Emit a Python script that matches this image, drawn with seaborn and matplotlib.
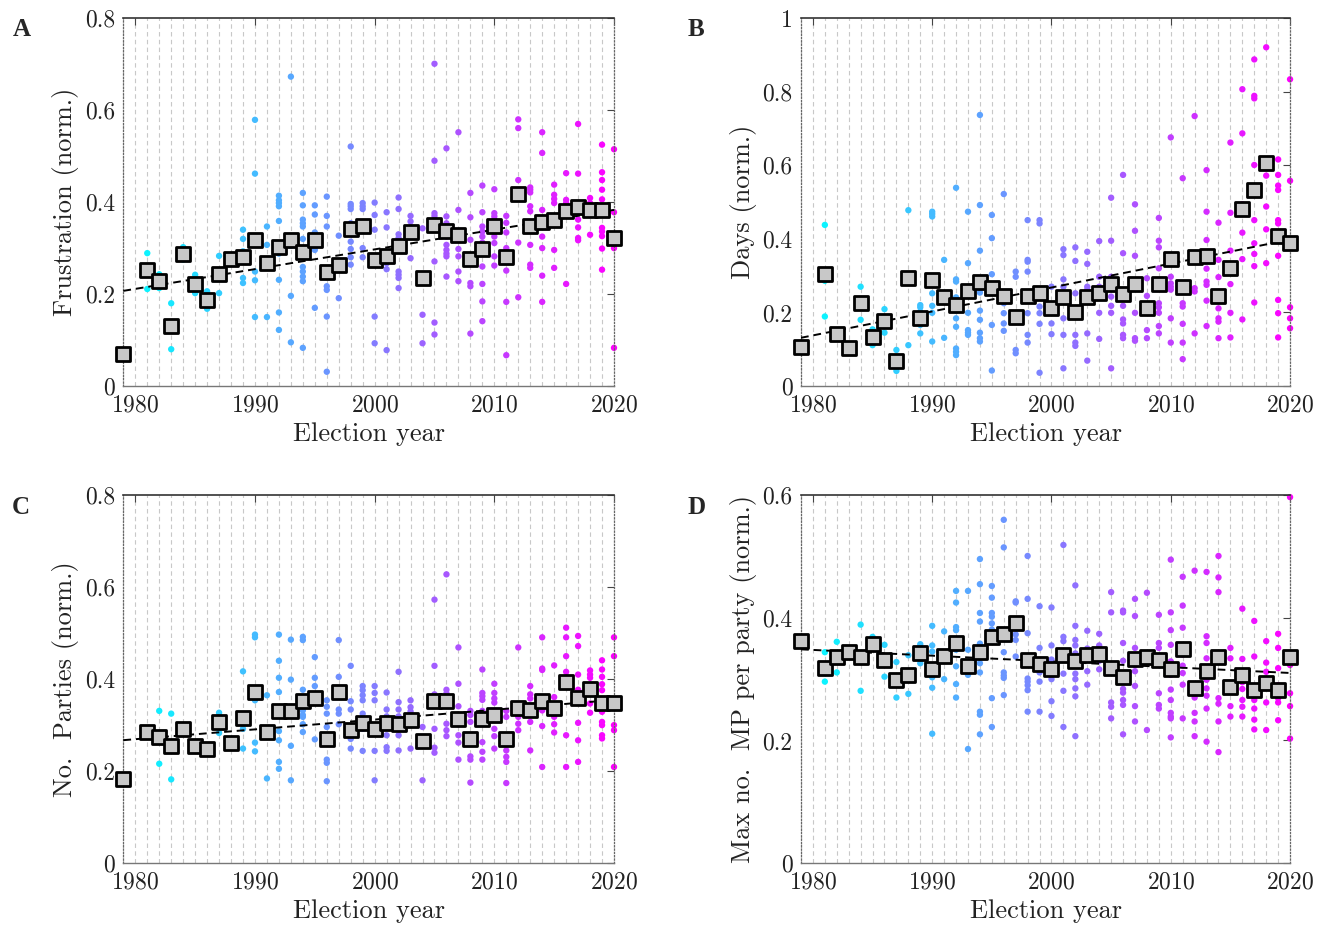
import numpy as np
import pandas as pd
import matplotlib
matplotlib.use("Agg")
import matplotlib.pyplot as plt
from matplotlib.ticker import FuncFormatter
import seaborn as sns

# election years (no election in 1980)
all_years = list(range(1979, 2021))
mean_years = [y for y in all_years if y != 1980]

# yearly means (grey squares), one value per entry of mean_years
frust_mean = [0.069, 0.252, 0.229, 0.130, 0.287, 0.222, 0.188, 0.243, 0.276, 0.280,
              0.318, 0.268, 0.302, 0.318, 0.292, 0.317, 0.247, 0.264, 0.341, 0.349,
              0.273, 0.282, 0.304, 0.335, 0.235, 0.351, 0.338, 0.329, 0.276, 0.298,
              0.347, 0.280, 0.418, 0.347, 0.357, 0.362, 0.381, 0.389, 0.382, 0.382,
              0.322]
days_mean = [0.105, 0.304, 0.141, 0.102, 0.225, 0.132, 0.178, 0.069, 0.295, 0.184,
             0.288, 0.241, 0.220, 0.258, 0.284, 0.266, 0.246, 0.187, 0.245, 0.254,
             0.211, 0.243, 0.202, 0.243, 0.254, 0.277, 0.249, 0.277, 0.213, 0.277,
             0.345, 0.268, 0.352, 0.354, 0.245, 0.320, 0.481, 0.533, 0.606, 0.409,
             0.390]
parties_mean = [0.182, 0.284, 0.274, 0.255, 0.292, 0.255, 0.247, 0.306, 0.261, 0.316,
                0.372, 0.284, 0.331, 0.331, 0.352, 0.360, 0.270, 0.371, 0.290, 0.305,
                0.291, 0.305, 0.302, 0.312, 0.266, 0.353, 0.353, 0.313, 0.269, 0.314,
                0.321, 0.270, 0.338, 0.334, 0.353, 0.337, 0.393, 0.358, 0.378, 0.348,
                0.348]
maxmp_mean = [0.363, 0.318, 0.336, 0.344, 0.336, 0.358, 0.332, 0.299, 0.307, 0.343,
              0.316, 0.338, 0.359, 0.322, 0.345, 0.368, 0.374, 0.392, 0.331, 0.325,
              0.316, 0.340, 0.330, 0.339, 0.341, 0.318, 0.304, 0.333, 0.336, 0.331,
              0.317, 0.350, 0.286, 0.314, 0.336, 0.288, 0.306, 0.283, 0.293, 0.283,
              0.336]

# individual election values (coloured dots), year -> values
frust_dots = {
    1981: [.289, .211], 1982: [.243, .213], 1983: [.180, .080], 1984: [.302, .275],
    1985: [.242, .202], 1986: [.206, .168], 1987: [.283, .202], 1988: [.280, .272],
    1989: [.340, .320, .293, .235, .224], 1990: [.579, .462, .249, .230, .150],
    1991: [.347, .307, .150],
    1992: [.414, .404, .398, .391, .359, .288, .231, .160, .122],
    1993: [.673, .305, .196, .095],
    1994: [.420, .393, .362, .354, .347, .320, .259, .249, .238, .228, .083],
    1995: [.393, .373, .334, .311, .296, .170],
    1996: [.412, .370, .347, .217, .209, .151, .031], 1997: [.327, .191],
    1998: [.521, .396, .391, .385, .354, .334, .314, .298, .280, .264],
    1999: [.398, .391, .385, .300, .280], 2000: [.399, .372, .340, .151, .093],
    2001: [.378, .345, .282, .267, .254, .078],
    2002: [.410, .385, .330, .322, .315, .249, .242, .235, .213],
    2003: [.370, .358, .345, .278], 2004: [.343, .155, .093],
    2005: [.701, .490, .376, .370, .271, .138, .112],
    2006: [.517, .369, .354, .325, .307, .296, .288, .282, .238],
    2007: [.552, .383, .298, .282, .249, .228],
    2008: [.420, .367, .318, .224, .217, .114],
    2009: [.436, .378, .347, .336, .325, .312, .260, .222, .184, .141],
    2010: [.428, .376, .369, .362, .355, .325, .311, .282, .262],
    2011: [.370, .355, .334, .300, .251, .183, .067],
    2012: [.580, .561, .448, .312, .193],
    2013: [.432, .427, .421, .391, .380, .307, .264, .257],
    2014: [.552, .507, .383, .325, .300, .240, .183],
    2015: [.438, .416, .407, .398, .296, .257], 2016: [.463, .405, .398, .222],
    2017: [.570, .462, .376, .362, .345, .322, .317], 2018: [.409, .398, .387, .329],
    2019: [.525, .465, .448, .427, .406, .344, .336, .326, .299, .253],
    2020: [.515, .378, .300, .083],
}
days_dots = {
    1981: [.438, .286, .189], 1984: [.270, .180], 1985: [.154, .111], 1986: [.209, .145],
    1987: [.098, .041], 1988: [.478, .111], 1989: [.220, .214, .202, .166, .143],
    1990: [.474, .468, .461, .252, .218, .199, .121], 1991: [.343, .131],
    1992: [.539, .290, .284, .241, .205, .184, .161, .102, .093, .084],
    1993: [.474, .334, .199, .152, .145, .139],
    1994: [.737, .492, .368, .254, .205, .180, .145, .130, .121],
    1995: [.465, .402, .304, .166, .042], 1996: [.522, .250, .225, .198, .170, .150],
    1997: [.311, .297, .098, .089], 1998: [.451, .343, .338, .311, .198, .139, .118],
    1999: [.451, .442, .216, .198, .169, .036], 2000: [.270, .170, .141],
    2001: [.372, .356, .290, .270, .184, .139, .048],
    2002: [.377, .340, .252, .211, .139, .118, .109],
    2003: [.365, .332, .270, .262, .143, .069], 2004: [.394, .297, .270, .199, .128],
    2005: [.512, .395, .297, .243, .218, .199, .048],
    2006: [.574, .361, .218, .181, .170, .139, .130],
    2007: [.494, .422, .354, .270, .199, .130, .123], 2008: [.293, .245, .152, .130],
    2009: [.457, .395, .377, .320, .225, .214, .199, .163, .143],
    2010: [.676, .297, .279, .270, .262, .184, .118],
    2011: [.565, .270, .225, .216, .169, .118, .073], 2012: [.734, .266, .257, .143],
    2013: [.587, .474, .397, .319, .284, .275, .232, .163],
    2014: [.444, .343, .296, .211, .184, .175, .130],
    2015: [.662, .471, .368, .277, .199, .132], 2016: [.807, .687, .494, .417, .345, .181],
    2017: [.888, .789, .782, .601, .451, .388, .359, .326, .227],
    2018: [.921, .616, .572, .488, .426, .334],
    2019: [.616, .574, .545, .533, .451, .442, .406, .354, .234, .198, .132],
    2020: [.834, .558, .214, .184, .157],
}
parties_dots = {
    1982: [.331, .216], 1983: [.325, .182], 1987: [.327, .283], 1989: [.417, .292, .249],
    1990: [.497, .491, .354, .262, .243], 1991: [.365, .184],
    1992: [.497, .440, .403, .372, .287, .267, .220, .205],
    1993: [.486, .399, .255, .180],
    1994: [.492, .485, .377, .332, .322, .318, .302, .285],
    1995: [.448, .403, .385, .269], 1996: [.354, .340, .325, .296, .225, .218, .178],
    1997: [.485, .405, .334, .325, .302], 1998: [.429, .352, .334, .283, .270, .249],
    1999: [.385, .376, .365, .354, .325, .292, .244], 2000: [.385, .370, .354, .244, .180],
    2001: [.371, .334, .319, .310, .296, .278, .252, .244],
    2002: [.416, .350, .334, .319, .311, .278, .245],
    2003: [.354, .339, .330, .318, .249], 2004: [.296, .180],
    2005: [.573, .429, .367, .292, .251, .240], 2006: [.628, .377, .369, .303, .289, .276],
    2007: [.469, .390, .341, .302, .278, .262, .225],
    2008: [.331, .322, .307, .267, .232, .225, .175],
    2009: [.421, .370, .363, .355, .331, .311, .263, .242, .225],
    2010: [.390, .370, .358, .349, .292, .276, .249],
    2011: [.331, .318, .245, .231, .220, .174], 2012: [.469, .340, .318, .303, .289],
    2013: [.385, .367, .358, .340, .307, .245], 2014: [.491, .423, .420, .332, .298, .209],
    2015: [.430, .361, .318, .302, .284],
    2016: [.512, .491, .450, .416, .398, .278, .209],
    2017: [.494, .472, .410, .377, .305, .267, .220],
    2018: [.419, .410, .403, .369, .347, .327],
    2019: [.441, .421, .405, .389, .376, .329, .307, .300, .278, .271],
    2020: [.491, .450, .300, .289, .209],
}
maxmp_dots = {
    1981: [.344, .296], 1982: [.361, .311], 1984: [.389, .281], 1985: [.369, .350],
    1986: [.356, .304], 1987: [.328, .270], 1988: [.339, .276], 1989: [.357, .326],
    1990: [.387, .355, .345, .303, .286, .211], 1991: [.378, .300],
    1992: [.444, .425, .385, .380, .348, .321, .292, .270],
    1993: [.444, .348, .307, .186],
    1994: [.496, .455, .408, .394, .358, .326, .311, .247, .242, .210],
    1995: [.452, .433, .408, .402, .391, .381, .269, .222],
    1996: [.560, .515, .344, .311, .306, .302, .274],
    1997: [.427, .425, .373, .364, .337],
    1998: [.501, .431, .375, .301, .296, .290, .282, .247],
    1999: [.419, .351, .311, .296, .247], 2000: [.417, .355, .332, .300, .264, .240],
    2001: [.519, .369, .362, .345, .309, .281, .222],
    2002: [.453, .387, .364, .355, .342, .309, .300, .285, .272, .207],
    2003: [.379, .350, .313, .291], 2004: [.374, .355, .330, .316],
    2005: [.442, .409, .262, .255, .236],
    2006: [.412, .409, .359, .330, .284, .278, .266, .258, .210],
    2007: [.431, .403, .351, .323, .313, .289, .256, .231],
    2008: [.441, .342, .336, .330, .217],
    2009: [.405, .359, .351, .323, .277, .258, .252],
    2010: [.495, .409, .380, .356, .329, .307, .283, .266, .245, .239, .236, .205],
    2011: [.467, .420, .384, .340, .322, .310, .291, .236],
    2012: [.477, .270, .245, .231, .207],
    2013: [.475, .370, .359, .334, .299, .285, .273, .252, .198],
    2014: [.501, .466, .442, .329, .269, .260, .231, .181],
    2015: [.351, .334, .280, .256, .239],
    2016: [.415, .333, .306, .295, .284, .266, .255, .239],
    2017: [.395, .337, .289, .283, .266, .252, .234, .218],
    2018: [.362, .327, .312, .262, .217],
    2019: [.374, .351, .318, .290, .276, .269, .262, .233],
    2020: [.597, .323, .277, .256, .203],
}

sns.set_theme(style="white")
plt.rcParams["font.family"] = ["cmr10", "DejaVu Serif"]
plt.rcParams["axes.formatter.use_mathtext"] = True
plt.rcParams["mathtext.fontset"] = "cm"


def draw_panel(ax, dots, means, ylabel, ymax):
    dot_df = pd.DataFrame([(yr, v) for yr, vals in dots.items() for v in vals],
                          columns=["year", "value"])
    mean_df = pd.DataFrame({"year": mean_years, "value": means})

    sns.scatterplot(data=dot_df, x="year", y="value", hue="year", palette="cool",
                    hue_norm=(1979, 2020), s=21, linewidth=0, legend=False,
                    ax=ax, zorder=2, clip_on=False)
    sns.regplot(data=mean_df, x="year", y="value", scatter=False, ci=None,
                color="black", line_kws=dict(dashes=(4, 2.5), lw=1.4, zorder=3), ax=ax)
    sns.scatterplot(data=mean_df, x="year", y="value", marker="s", s=115,
                    color="#c8c8c8", edgecolor="black", linewidth=2.0,
                    ax=ax, zorder=4, clip_on=False)

    ax.set_xlim(1979, 2020)
    ax.set_ylim(0, ymax)
    ax.set_xticks([1980, 1990, 2000, 2010, 2020])
    ax.set_xticks(all_years, minor=True)
    ax.set_yticks(np.round(np.arange(0, ymax + 0.01, 0.2), 1))
    ax.yaxis.set_major_formatter(FuncFormatter(lambda v, p: f"{v:g}"))
    ax.grid(True, which="both", axis="x", color="#c8c8c8", lw=0.8, dashes=(4, 3))
    ax.set_axisbelow(True)
    ax.tick_params(which="major", direction="in", length=5, width=0.8,
                   color="#444444", top=True, right=True, labelsize=17,
                   labelcolor="#222222", pad=6)
    ax.tick_params(which="minor", length=0)

    ax.spines["top"].set_color("#333333")
    ax.spines["top"].set_linewidth(1.2)
    ax.spines["bottom"].set_color("#777777")
    ax.spines["bottom"].set_linewidth(1.0)
    for side in ["left", "right"]:
        ax.spines[side].set_linestyle(":")
        ax.spines[side].set_color("#666666")
        ax.spines[side].set_linewidth(0.9)

    ax.set_xlabel("Election year", fontsize=19, color="#222222")
    ax.set_ylabel(ylabel, fontsize=19, color="#222222")


fig = plt.figure(figsize=(13.29, 9.31), dpi=100)
ax_a = fig.add_axes([0.0928, 0.5854, 0.3692, 0.395])
ax_b = fig.add_axes([0.6027, 0.5854, 0.3680, 0.395])
ax_c = fig.add_axes([0.0928, 0.0730, 0.3692, 0.395])
ax_d = fig.add_axes([0.6027, 0.0730, 0.3680, 0.395])

draw_panel(ax_a, frust_dots, frust_mean, "Frustration (norm.)", 0.8)
draw_panel(ax_b, days_dots, days_mean, "Days (norm.)", 1.0)
draw_panel(ax_c, parties_dots, parties_mean, "No.  Parties (norm.)", 0.8)
draw_panel(ax_d, maxmp_dots, maxmp_mean, "Max no.  MP per party (norm.)", 0.6)

for letter, x, y in [("A", 0.016, 0.968), ("B", 0.524, 0.968),
                     ("C", 0.016, 0.455), ("D", 0.524, 0.455)]:
    fig.text(x, y, letter, fontsize=18, fontweight="bold", family="Liberation Serif",
             ha="center", va="center")

fig.savefig("out.png", dpi=100)
